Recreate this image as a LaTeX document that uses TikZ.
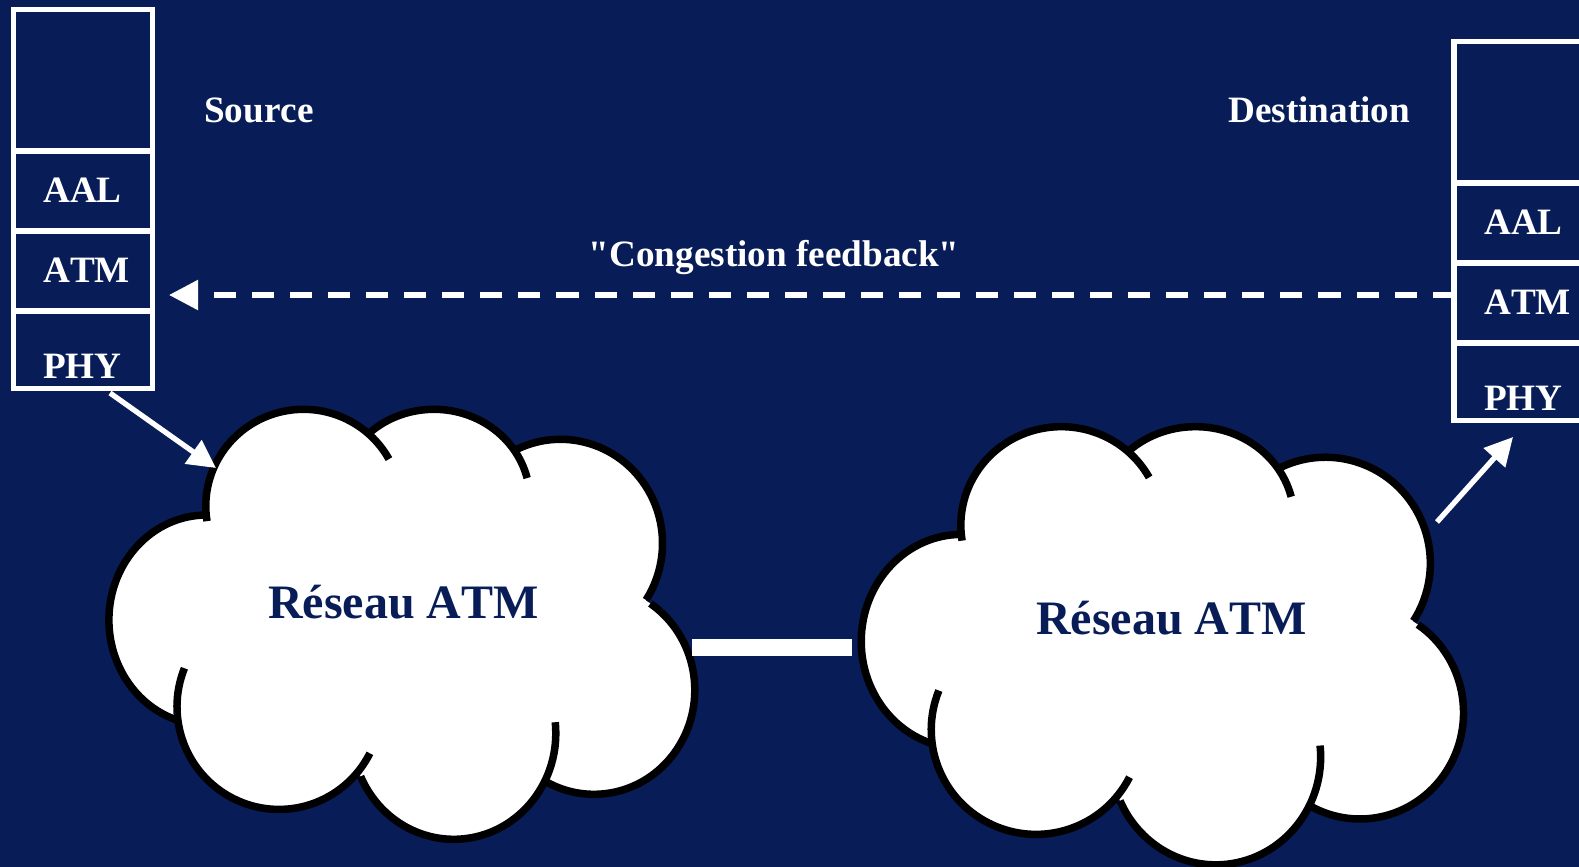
\documentclass[tikz,border=0pt]{standalone}
\usepackage{fontspec}
\setmainfont{Liberation Serif}[Kerning=Off]
\newfontfamily\plainserif{Liberation Serif}[Kerning=Off]
\usepackage{tikz}
\usetikzlibrary{calc,positioning,arrows.meta}
\definecolor{navy}{HTML}{081D58}

\tikzset{layerbox/.style={draw=white,line width=5.3pt,minimum width=139pt,inner sep=0pt,outer sep=0pt,shape=rectangle},
labeltext/.style={text=white,font=\fontsize{37.2}{40}\selectfont\bfseries,inner sep=0pt,anchor=base west},
cloudtext/.style={text=navy,font=\fontsize{48}{52}\selectfont\bfseries,inner sep=0pt,anchor=base west},
flecheblanche/.style={draw=white,line width=5.3pt,-{Triangle[length=28pt,width=28pt]}},
atmcloud/.pic={
\fill[white] (170,-130) rectangle (480,-330);
\foreach \cx/\cy/\rx/\ry/\sa/\ea in {116.6/230/97.7/105/90/252, 213.5/116/97.7/96.7/189/29, 344/110/96/90.7/133/14,
470.5/153.3/102/104/118/-33, 504/300/100.8/104.3/56/-118, 363.8/343.3/102/106/6/-156, 189/316.7/102/102.7/-27/-202} {
\fill[white] (\cx,-\cy) ellipse[x radius=\rx,y radius=\ry];
}
\foreach \cx/\cy/\rx/\ry/\sa/\ea in {116.6/230/97.7/105/90/252, 213.5/116/97.7/96.7/189/29, 344/110/96/90.7/133/14,
470.5/153.3/102/104/118/-33, 504/300/100.8/104.3/56/-118, 363.8/343.3/102/106/6/-156, 189/316.7/102/102.7/-27/-202} {
\draw[black,line width=7.5pt] (\cx,-\cy) ++(\sa:{\rx} and {\ry}) arc[start angle=\sa,end angle=\ea,x radius=\rx,y radius=\ry];
}
}}

\begin{document}
\begin{tikzpicture}[x=1pt,y=1pt,node distance=0pt]

\clip (0,0) rectangle (1579,-867);
\fill[navy] (0,0) rectangle (1579,-867);

% Source stack
\node[layerbox,minimum height=141.5pt] (sTop) at (83,-80.25) {};
\node[layerbox,minimum height=80pt,below=of sTop] (sAAL) {};
\node[layerbox,minimum height=80pt,below=of sAAL] (sATM) {};
\node[layerbox,minimum height=77.5pt,below=of sATM] (sPHY) {};
\node[labeltext] (sAALtext) at (43,-202) {AAL};
\node[labeltext] (sATMtext) at (43,-282) {ATM};
\node[labeltext] (sPHYtext) at (43,-378) {PHY};
\node[labeltext] (source) at (204,-122) {Source};

% Destination stack
\node[layerbox,minimum height=141.5pt] (dTop) at (1523.5,-112.25) {};
\node[layerbox,minimum height=80pt,below=of dTop] (dAAL) {};
\node[layerbox,minimum height=80pt,below=of dAAL] (dATM) {};
\node[layerbox,minimum height=77.5pt,below=of dATM] (dPHY) {};
\node[labeltext] (dAALtext) at (1484,-234) {AAL};
\node[labeltext] (dATMtext) at (1484,-314) {ATM};
\node[labeltext] (dPHYtext) at (1484,-410) {PHY};
\node[labeltext] (destination) at (1228,-122) {Destination};

% Clouds
\pic at (90,-390) {atmcloud};
\pic[xscale=1.028,yscale=1.019] at (841.8,-407) {atmcloud};
\node[cloudtext] (net1) at (268,-618) {Réseau ATM};
\node[cloudtext] (net2) at (1036,-634) {Réseau ATM};

% Feedback
\node[labeltext] (feedback) at (588.5,-266) {\plainserif\bfseries "Congestion feedback"};
\coordinate (fbend) at (169,-295);
\coordinate (fbstart) at ($(dATM.west)+(0,8)$);
\draw[draw=white,line width=5.3pt,dash pattern=on 22.1pt off 16pt,dash phase=0.8pt,-{Triangle[length=29pt,width=29pt]}] (fbstart) -- (fbend);

% Arrows
\coordinate (s1) at (110,-393);
\coordinate (c1) at (216,-468);
\draw[flecheblanche] (s1) -- (c1);
\coordinate (c2) at (1437,-522);
\coordinate (d1) at (1513,-437);
\draw[flecheblanche] (c2) -- (d1);

% Link
\coordinate (l1) at (692,-647.3);
\coordinate (l2) at (851.5,-647.3);
\draw[white,line width=16.5pt] (l1) -- (l2);

\end{tikzpicture}
\end{document}
